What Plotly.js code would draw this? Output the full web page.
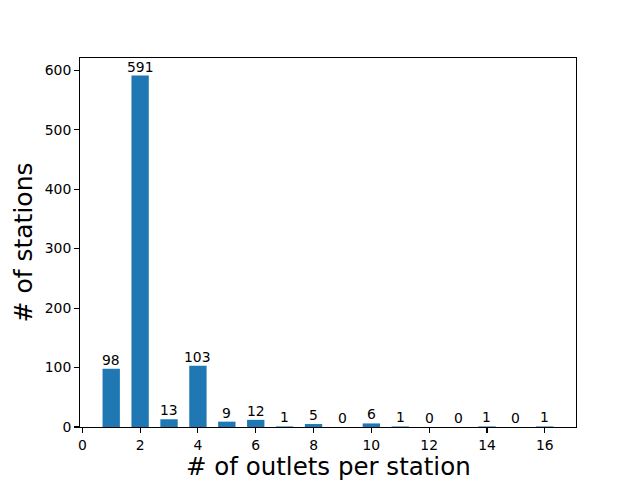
<!DOCTYPE html>
<html>
<head>
<meta charset="utf-8">
<script src="https://cdn.plot.ly/plotly-3.0.1.min.js"></script>
<style>html,body{margin:0;padding:0;background:#fff;}#chart{width:640px;height:480px;}</style>
</head>
<body>
<div id="chart"></div>
<script>
const outlets = [1, 2, 3, 4, 5, 6, 7, 8, 9, 10, 11, 12, 13, 14, 15, 16];
const stations = [98, 591, 13, 103, 9, 12, 1, 5, 0, 6, 1, 0, 0, 1, 0, 1];
const xTitle = '# of outlets per station';
const yTitle = '# of stations';

const font = 'DejaVu Sans, sans-serif';
const trace = {
  type: 'bar',
  x: outlets,
  y: stations,
  width: 0.6,
  marker: {color: '#1f77b4', line: {width: 0}},
  hoverinfo: 'skip'
};

const annotations = outlets.map((o, i) => ({
  x: o, y: stations[i], xref: 'x', yref: 'y',
  text: String(stations[i]), showarrow: false,
  yanchor: 'bottom', xanchor: 'center', yshift: -1,
  font: {family: font, size: 13.9, color: '#000'}
}));

// x-axis title as a paper annotation, placed just below the tick labels
annotations.push({
  x: 0.5, y: -(451 - 427) / 369, xref: 'paper', yref: 'paper',
  text: xTitle, showarrow: false, xanchor: 'center', yanchor: 'top',
  borderpad: 0,
  font: {family: font, size: 24.5, color: '#000'}
});

const axisCommon = {
  showgrid: false, zeroline: false,
  showline: true, mirror: true, linecolor: '#000', linewidth: 1.1,
  ticks: 'outside', ticklen: 4.9, tickwidth: 1.1, tickcolor: '#000',
  tickfont: {family: font, size: 13.9, color: '#000'},
  automargin: false
};

const layout = {
  width: 640, height: 480,
  margin: {l: 80, r: 64, t: 58, b: 53, pad: 0},
  paper_bgcolor: '#fff', plot_bgcolor: '#fff',
  showlegend: false,
  font: {family: font, color: '#000'},
  xaxis: Object.assign({}, axisCommon, {
    range: [-0.08, 17.08], tickmode: 'linear', tick0: 0, dtick: 2
  }),
  yaxis: Object.assign({}, axisCommon, {
    range: [0, 620.55], tickmode: 'linear', tick0: 0, dtick: 100,
    title: {text: yTitle, font: {family: font, size: 25, color: '#000'}, standoff: 5}
  }),
  annotations: annotations
};

Plotly.newPlot('chart', [trace], layout, {staticPlot: true, displayModeBar: false});
</script>
</body>
</html>
